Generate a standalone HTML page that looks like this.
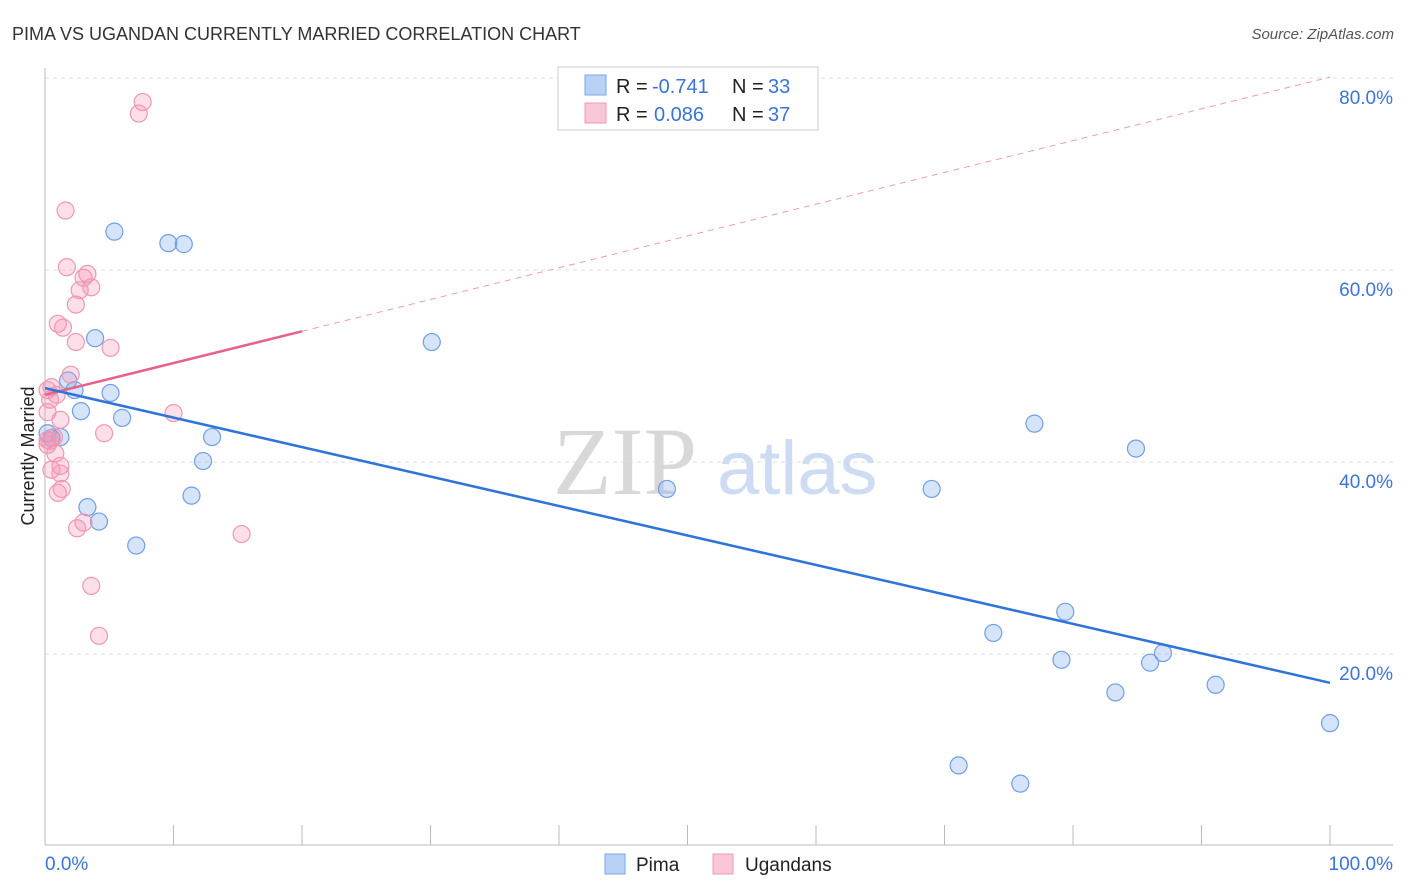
<!DOCTYPE html>
<html><head><meta charset="utf-8">
<style>
body{margin:0;background:#fff;font-family:"Liberation Sans",sans-serif;}
svg{display:block}
</style></head><body>
<svg id="chart" width="1406" height="892">
<text x="12" y="40" font-size="18" fill="#333">PIMA VS UGANDAN CURRENTLY MARRIED CORRELATION CHART</text>
<text x="1394" y="39" font-size="15" fill="#555" font-style="italic" text-anchor="end">Source: ZipAtlas.com</text>
<g>
<text x="553" y="494" font-size="96" font-family="Liberation Serif,serif" fill="#d8d8d8">ZIP</text>
<text x="717" y="494" font-size="76" fill="#cddcf3">atlas</text>
</g>
<g id="grid"></g>
<g id="axes"></g>
<g id="marks"></g>
<text transform="translate(34,456) rotate(-90)" font-size="18" fill="#222" text-anchor="middle">Currently Married</text>
<g>
<rect x="558" y="67" width="260" height="63" fill="#fff" stroke="#ccc"/>
<rect x="585" y="75" width="21" height="20" fill="#b8d2f5" stroke="#7aa7e6"/>
<text x="616" y="93" font-size="20" fill="#222">R =</text>
<text x="652" y="93" font-size="20" fill="#3a74d6">-0.741</text>
<text x="732" y="93" font-size="20" fill="#222">N =</text>
<text x="768" y="93" font-size="20" fill="#3a74d6">33</text>
<rect x="585" y="103" width="21" height="20" fill="#f9c6d6" stroke="#ef9ab5"/>
<text x="616" y="121" font-size="20" fill="#222">R =</text>
<text x="654" y="121" font-size="20" fill="#3a74d6">0.086</text>
<text x="732" y="121" font-size="20" fill="#222">N =</text>
<text x="768" y="121" font-size="20" fill="#3a74d6">37</text>
</g>
<g>
<rect x="605" y="854" width="20" height="20" fill="#b8d2f5" stroke="#7aa7e6"/>
<text x="636" y="871" font-size="19" fill="#222">Pima</text>
<rect x="713" y="854" width="20" height="20" fill="#f9c6d6" stroke="#ef9ab5"/>
<text x="745" y="871" font-size="19" fill="#222">Ugandans</text>
</g>
</svg>
<script>
const yTicks=[20,40,60,80];
const yTickLabels=["20.0%","40.0%","60.0%","80.0%"];
const xTicks=[0,10,20,30,40,50,60,70,80,90,100];
const pimaX=[5.4,9.6,10.8,3.9,30.1,1.8,2.3,5.1,2.8,6.0,13.0,1.2,0.2,12.3,11.4,3.3,4.2,7.1,48.4,69.0,77.0,84.9,79.4,73.8,79.1,86.0,87.0,83.3,91.1,100,71.1,75.9,0.5];
const pimaY=[64.1,62.9,62.8,53.0,52.6,48.6,47.6,47.3,45.4,44.7,42.7,42.7,43.1,40.2,36.6,35.4,33.9,31.4,37.3,37.3,44.1,41.5,24.5,22.3,19.5,19.2,20.2,16.1,16.9,12.9,8.5,6.6,42.6];
const ugX=[7.6,7.3,1.6,1.7,3.3,3.0,3.6,2.7,2.4,1.0,1.4,2.4,5.1,2.0,0.5,0.2,0.9,0.4,0.2,1.2,10.0,4.6,0.7,0.4,0.8,1.2,1.2,1.3,1.0,3.0,2.5,15.3,3.6,4.2,0.2,0.5,0.2];
const ugY=[77.6,76.4,66.3,60.4,59.7,59.3,58.3,58.0,56.5,54.5,54.1,52.6,52.0,49.2,47.9,47.6,47.1,46.6,45.3,44.5,45.2,43.1,42.7,42.3,41.0,39.7,38.9,37.3,36.9,33.8,33.2,32.6,27.2,22.0,42.4,39.3,41.9];
const pimaTrend=[47.8,17.1];
const ugTrend=[47.1,80.2];
const ugSolidEnd=20;
const NS="http://www.w3.org/2000/svg";
const X=v=>45+v*12.85, Y=v=>847-v*9.6;
function mk(t,a,p){const e=document.createElementNS(NS,t);for(const k in a)e.setAttribute(k,a[k]);document.getElementById(p).appendChild(e);return e;}
yTicks.forEach((t,i)=>{
 const g=mk('line',{x1:45,x2:1393,y1:Y(t)-1,y2:Y(t)-1,stroke:'#ddd','stroke-dasharray':'4,4'},'grid');
 
 
 const l=mk('text',{x:1393,y:Y(t)+25,'font-size':19,fill:'#3a74d6','text-anchor':'end'},'axes');l.textContent=yTickLabels[i];
 
 
});
const a1=mk('line',{x1:45,x2:45,y1:68,y2:845,stroke:'#bbb'},'axes');


const a2=mk('line',{x1:45,x2:1393,y1:845,y2:845,stroke:'#bbb'},'axes');


xTicks.forEach(t=>{const e=mk('line',{x1:X(t),x2:X(t),y1:825,y2:845,stroke:'#bbb'},'axes');
 
 });
const x0=mk('text',{x:45,y:870,'font-size':19,fill:'#3a74d6'},'axes');x0.textContent='0.0%';


const x1=mk('text',{x:1393,y:870,'font-size':19,fill:'#3a74d6','text-anchor':'end'},'axes');x1.textContent='100.0%';


pimaX.forEach((x,i)=>{const c=mk('circle',{cx:X(x),cy:Y(pimaY[i]),r:8.5,fill:'rgba(120,165,235,0.3)',stroke:'#6f9fe6','stroke-width':1.2},'marks');
 
 });
ugX.forEach((x,i)=>{const c=mk('circle',{cx:X(x),cy:Y(ugY[i]),r:8.5,fill:'rgba(244,150,180,0.3)',stroke:'#ef97b3','stroke-width':1.2},'marks');
 
 });
const ugAt=v=>ugTrend[0]+(ugTrend[1]-ugTrend[0])*v/100;
const d=mk('line',{x1:X(ugSolidEnd),y1:Y(ugAt(ugSolidEnd)),x2:X(100),y2:Y(ugTrend[1]),stroke:'#ee9ab5','stroke-dasharray':'6,5','stroke-width':1},'marks');


const s=mk('line',{x1:X(0),y1:Y(ugTrend[0]),x2:X(ugSolidEnd),y2:Y(ugAt(ugSolidEnd)),stroke:'#e8608b','stroke-width':2.5},'marks');


const b=mk('line',{x1:X(0),y1:Y(pimaTrend[0]),x2:X(100),y2:Y(pimaTrend[1]),stroke:'#2f74d8','stroke-width':2.5},'marks');


</script>
</body></html>
